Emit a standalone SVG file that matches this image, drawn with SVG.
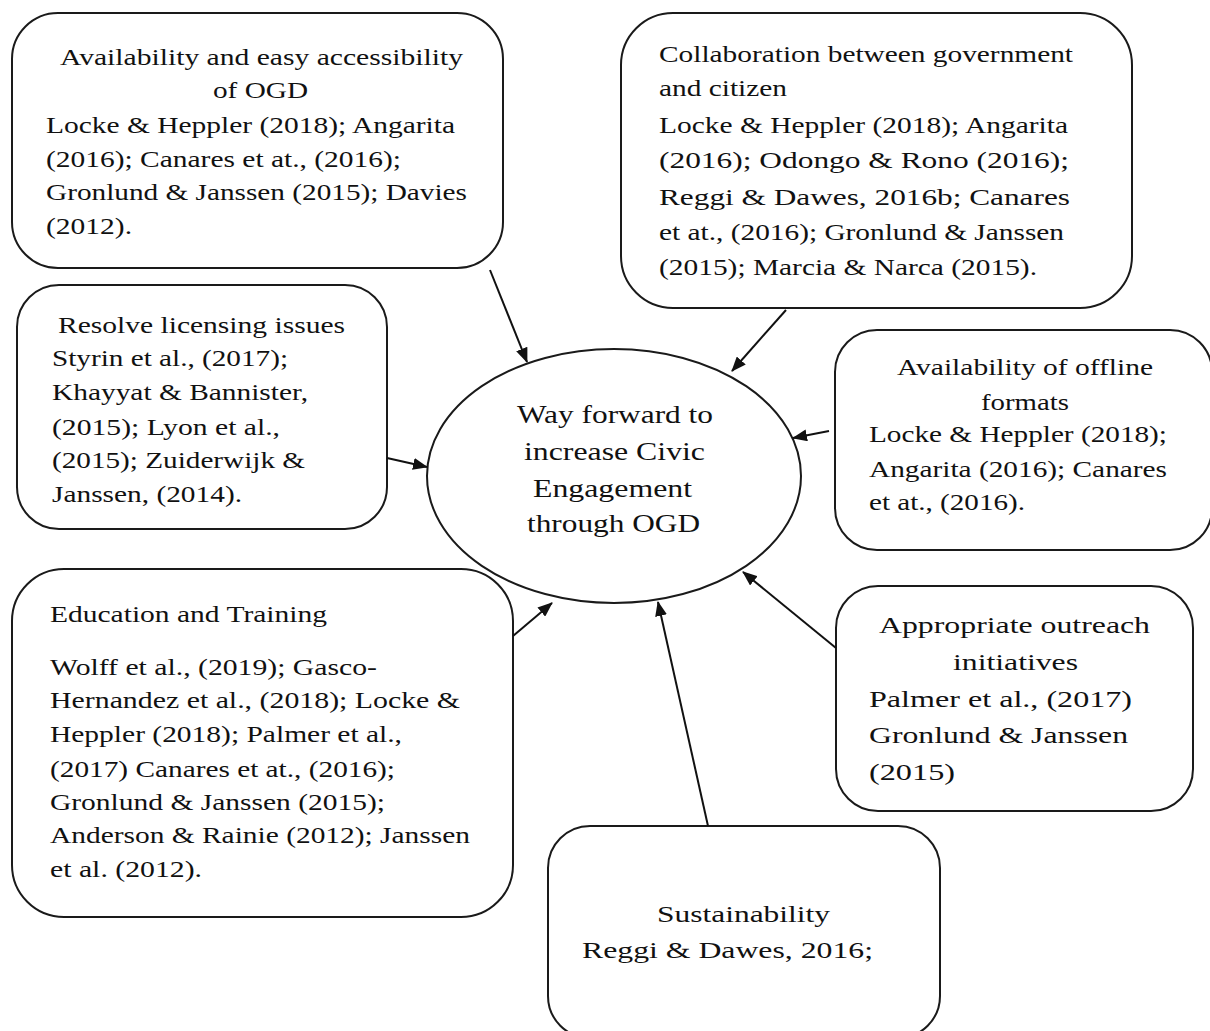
<svg xmlns="http://www.w3.org/2000/svg" width="1210" height="1031" viewBox="0 0 1210 1031">
<style>
.box{fill:#fff;stroke:#1a1a1a;stroke-width:2}
text{font-family:"Liberation Serif","Times New Roman",serif;font-size:24px;fill:#111}
.c{text-anchor:middle}
.e{font-size:26px}
.conn line{stroke:#111;stroke-width:2}
</style>
<defs>
<marker id="ah" markerUnits="userSpaceOnUse" markerWidth="15" markerHeight="12" refX="14" refY="6" orient="auto">
<path d="M0,0 L15,6 L0,12 Z" fill="#111"/>
</marker>
</defs>
<rect width="1210" height="1031" fill="#fff"/>
<g id="center">
<ellipse class="box" cx="614" cy="476" rx="187" ry="127"/>
<text class="e c" x="615" y="423" textLength="196" lengthAdjust="spacingAndGlyphs">Way forward to</text>
<text class="e c" x="614.5" y="460" textLength="181" lengthAdjust="spacingAndGlyphs">increase Civic</text>
<text class="e c" x="612.5" y="497" textLength="159" lengthAdjust="spacingAndGlyphs">Engagement</text>
<text class="e c" x="613.5" y="532" textLength="173" lengthAdjust="spacingAndGlyphs">through OGD</text>
</g>
<g id="n1">
<rect class="box" x="12" y="13" width="491" height="255" rx="46"/>
<text class="c" x="261.5" y="65" textLength="403" lengthAdjust="spacingAndGlyphs">Availability and easy accessibility</text>
<text class="c" x="260.5" y="98" textLength="95" lengthAdjust="spacingAndGlyphs">of OGD</text>
<text x="46" y="133" textLength="409" lengthAdjust="spacingAndGlyphs">Locke &amp; Heppler (2018); Angarita</text>
<text x="46" y="167" textLength="355" lengthAdjust="spacingAndGlyphs">(2016); Canares et at., (2016);</text>
<text x="46" y="200" textLength="421" lengthAdjust="spacingAndGlyphs">Gronlund &amp; Janssen (2015); Davies</text>
<text x="46" y="234" textLength="86" lengthAdjust="spacingAndGlyphs">(2012).</text>
</g>
<g id="n2">
<rect class="box" x="621" y="13" width="511" height="295" rx="52"/>
<text x="659" y="62" textLength="414" lengthAdjust="spacingAndGlyphs">Collaboration between government</text>
<text x="659" y="96" textLength="128" lengthAdjust="spacingAndGlyphs">and citizen</text>
<text x="659" y="133" textLength="409" lengthAdjust="spacingAndGlyphs">Locke &amp; Heppler (2018); Angarita</text>
<text x="659" y="168" textLength="410" lengthAdjust="spacingAndGlyphs">(2016); Odongo &amp; Rono (2016);</text>
<text x="659" y="205" textLength="411" lengthAdjust="spacingAndGlyphs">Reggi &amp; Dawes, 2016b; Canares</text>
<text x="659" y="240" textLength="405" lengthAdjust="spacingAndGlyphs">et at., (2016); Gronlund &amp; Janssen</text>
<text x="659" y="275" textLength="378" lengthAdjust="spacingAndGlyphs">(2015); Marcia &amp; Narca (2015).</text>
</g>
<g id="n3">
<rect class="box" x="17" y="285" width="370" height="244" rx="42"/>
<text class="c" x="201.5" y="333" textLength="287" lengthAdjust="spacingAndGlyphs">Resolve licensing issues</text>
<text x="52" y="366" textLength="236" lengthAdjust="spacingAndGlyphs">Styrin et al., (2017);</text>
<text x="52" y="400" textLength="256" lengthAdjust="spacingAndGlyphs">Khayyat &amp; Bannister,</text>
<text x="52" y="435" textLength="228" lengthAdjust="spacingAndGlyphs">(2015); Lyon et al.,</text>
<text x="52" y="468" textLength="253" lengthAdjust="spacingAndGlyphs">(2015); Zuiderwijk &amp;</text>
<text x="52" y="502" textLength="190" lengthAdjust="spacingAndGlyphs">Janssen, (2014).</text>
</g>
<g id="n4">
<rect class="box" x="835" y="330" width="377" height="220" rx="42"/>
<text class="c" x="1025" y="375" textLength="256" lengthAdjust="spacingAndGlyphs">Availability of offline</text>
<text class="c" x="1025" y="410" textLength="88" lengthAdjust="spacingAndGlyphs">formats</text>
<text x="869" y="442" textLength="298" lengthAdjust="spacingAndGlyphs">Locke &amp; Heppler (2018);</text>
<text x="869" y="477" textLength="298" lengthAdjust="spacingAndGlyphs">Angarita (2016); Canares</text>
<text x="869" y="510" textLength="156" lengthAdjust="spacingAndGlyphs">et at., (2016).</text>
</g>
<g id="n5">
<rect class="box" x="12" y="569" width="501" height="348" rx="52"/>
<text x="50" y="622" textLength="277" lengthAdjust="spacingAndGlyphs">Education and Training</text>
<text x="50" y="675" textLength="327" lengthAdjust="spacingAndGlyphs">Wolff et al., (2019); Gasco-</text>
<text x="50" y="708" textLength="410" lengthAdjust="spacingAndGlyphs">Hernandez et al.,  (2018); Locke &amp;</text>
<text x="50" y="742" textLength="352" lengthAdjust="spacingAndGlyphs">Heppler (2018); Palmer et al.,</text>
<text x="50" y="777" textLength="345" lengthAdjust="spacingAndGlyphs">(2017) Canares et at., (2016);</text>
<text x="50" y="810" textLength="335" lengthAdjust="spacingAndGlyphs">Gronlund &amp; Janssen (2015);</text>
<text x="50" y="843" textLength="420" lengthAdjust="spacingAndGlyphs">Anderson &amp; Rainie (2012); Janssen</text>
<text x="50" y="877" textLength="152" lengthAdjust="spacingAndGlyphs">et al. (2012).</text>
</g>
<g id="n6">
<rect class="box" x="836" y="586" width="357" height="225" rx="42"/>
<text class="c" x="1014.5" y="633" textLength="271" lengthAdjust="spacingAndGlyphs">Appropriate outreach</text>
<text class="c" x="1015.5" y="670" textLength="125" lengthAdjust="spacingAndGlyphs">initiatives</text>
<text x="869" y="707" textLength="263" lengthAdjust="spacingAndGlyphs">Palmer et al., (2017)</text>
<text x="869" y="743" textLength="259" lengthAdjust="spacingAndGlyphs">Gronlund &amp; Janssen</text>
<text x="869" y="780" textLength="86" lengthAdjust="spacingAndGlyphs">(2015)</text>
</g>
<g id="n7">
<rect class="box" x="548" y="826" width="392" height="212" rx="42"/>
<text class="c" x="743.5" y="922" textLength="173" lengthAdjust="spacingAndGlyphs">Sustainability</text>
<text x="582" y="958" textLength="291" lengthAdjust="spacingAndGlyphs">Reggi &amp; Dawes, 2016;</text>
</g>
<g id="connectors" class="conn">
<line x1="490" y1="270" x2="527" y2="362" marker-end="url(#ah)"/>
<line x1="786" y1="310" x2="732" y2="371" marker-end="url(#ah)"/>
<line x1="387" y1="458" x2="427" y2="467" marker-end="url(#ah)"/>
<line x1="829" y1="431" x2="793" y2="438" marker-end="url(#ah)"/>
<line x1="513" y1="636" x2="552" y2="603" marker-end="url(#ah)"/>
<line x1="708" y1="826" x2="658" y2="602" marker-end="url(#ah)"/>
<line x1="836" y1="648" x2="743" y2="572" marker-end="url(#ah)"/>
</g>
</svg>
